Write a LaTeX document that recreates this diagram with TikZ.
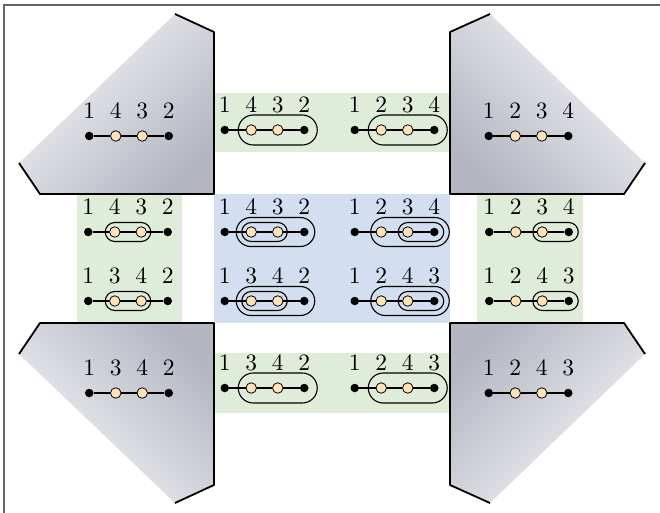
\documentclass[tikz,border=0pt]{standalone}
\usepackage{fontspec}
\setmainfont{lmroman10-regular}[Extension=.otf]
\usetikzlibrary{calc}
\definecolor{greenbg}{RGB}{224,236,218}
\definecolor{bluebg}{RGB}{211,223,240}
\definecolor{peach}{RGB}{255,226,186}
\definecolor{polylight}{RGB}{246,246,248}
\definecolor{polydark}{RGB}{180,183,194}
\definecolor{framegray}{RGB}{100,100,100}
\newcommand\labfont{\fontsize{23.5pt}{28pt}\selectfont}
\tikzset{
  bdot/.style={circle,fill=black,inner sep=0pt,minimum size=8.5pt},
  pdot/.style={circle,draw=black,fill=peach,line width=0.8pt,inner sep=0pt,minimum size=10.5pt},
  edge/.style={draw=black,line width=1.1pt},
  lab/.style={inner sep=0pt,font=\labfont},
  loopst/.style={draw=black,line width=1.1pt},
  polyline/.style={draw=black,line width=1.8pt,line join=round},
}
\newcommand\chain[7]{%
  \node[bdot] (#1-1) at (#2-39.75,#3) {};
  \node[pdot] (#1-2) at (#2-13.25,#3) {};
  \node[pdot] (#1-3) at (#2+13.25,#3) {};
  \node[bdot] (#1-4) at (#2+39.75,#3) {};
  \draw[edge] (#1-1) -- (#1-2) -- (#1-3) -- (#1-4);
  \node[lab] (#1-l1) at (#2-39.75,#3-25) {#4};
  \node[lab] (#1-l2) at (#2-13.25,#3-25) {#5};
  \node[lab] (#1-l3) at (#2+13.25,#3-25) {#6};
  \node[lab] (#1-l4) at (#2+39.75,#3-25) {#7};
}
% #1 left node, #2 right node, #3 left ext, #4 right ext, #5 half height
\newcommand\stad[5]{%
  \draw[loopst,rounded corners=#5] ($(#1)+(-#3,-#5)$) rectangle ($(#2)+(#4,#5)$);
}
\begin{document}
\begin{tikzpicture}[x=1pt,y=-1pt]
\useasboundingbox (0,0) rectangle (660,513);
% backgrounds
\fill[greenbg] (214,93) rectangle (450,152);
\fill[greenbg] (214,353) rectangle (450,413);
\fill[greenbg] (77,194) rectangle (182,323);
\fill[greenbg] (477,194) rectangle (583,323);
\fill[bluebg] (214,194) rectangle (450,323);
% polygons
\shade[top color=polylight,bottom color=polydark,shading angle=45]
  (175,14) -- (214,32) -- (214,194) -- (40,194) -- (19,163) -- cycle;
\draw[polyline] (175,14) -- (214,32) -- (214,194) -- (40,194) -- (19,163);
\shade[top color=polylight,bottom color=polydark,shading angle=-45]
  (490,14) -- (450,32) -- (450,194) -- (624,194) -- (645,163) -- cycle;
\draw[polyline] (490,14) -- (450,32) -- (450,194) -- (624,194) -- (645,163);
\shade[top color=polylight,bottom color=polydark,shading angle=135]
  (175,503) -- (214,485) -- (214,323) -- (40,323) -- (19,354) -- cycle;
\draw[polyline] (175,503) -- (214,485) -- (214,323) -- (40,323) -- (19,354);
\shade[top color=polylight,bottom color=polydark,shading angle=-135]
  (490,503) -- (450,485) -- (450,323) -- (624,323) -- (645,354) -- cycle;
\draw[polyline] (490,503) -- (450,485) -- (450,323) -- (624,323) -- (645,354);
% frame
\draw[framegray,line width=2pt] (3.5,513) -- (3.5,5.5) -- (660,5.5);
% diagrams
\chain{TL}{129}{136}{1}{4}{3}{2}
\chain{TR}{528.5}{136}{1}{2}{3}{4}
\chain{BL}{129}{393}{1}{3}{4}{2}
\chain{BR}{528.5}{393}{1}{2}{4}{3}
\chain{TMa}{264.5}{130}{1}{4}{3}{2}
\chain{TMb}{394.5}{130}{1}{2}{3}{4}
\stad{TMa-2}{TMa-4}{13}{13}{15}
\stad{TMb-2}{TMb-4}{13}{13}{15}
\chain{BMa}{264.5}{388}{1}{3}{4}{2}
\chain{BMb}{394.5}{388}{1}{2}{4}{3}
\stad{BMa-2}{BMa-4}{13}{13}{15}
\stad{BMb-2}{BMb-4}{13}{13}{15}
\chain{LGa}{128}{232}{1}{4}{3}{2}
\chain{LGb}{128}{301}{1}{3}{4}{2}
\stad{LGa-2}{LGa-3}{9.5}{9.5}{9.5}
\stad{LGb-2}{LGb-3}{9.5}{9.5}{9.5}
\chain{RGa}{529}{232}{1}{2}{3}{4}
\chain{RGb}{529}{301}{1}{2}{4}{3}
\stad{RGa-3}{RGa-4}{9.5}{9.5}{9.5}
\stad{RGb-3}{RGb-4}{9.5}{9.5}{9.5}
\chain{Ba}{264.5}{232}{1}{4}{3}{2}
\chain{Bb}{394.5}{232}{1}{2}{3}{4}
\chain{Bc}{264.5}{301}{1}{3}{4}{2}
\chain{Bd}{394.5}{301}{1}{2}{4}{3}
\stad{Ba-2}{Ba-3}{9.5}{9.5}{9.5}
\stad{Ba-2}{Ba-4}{15}{10.5}{14.5}
\stad{Bb-3}{Bb-4}{9.5}{9.5}{9.5}
\stad{Bb-2}{Bb-4}{10.5}{15}{14.5}
\stad{Bc-2}{Bc-3}{9.5}{9.5}{9.5}
\stad{Bc-2}{Bc-4}{15}{10.5}{14.5}
\stad{Bd-3}{Bd-4}{9.5}{9.5}{9.5}
\stad{Bd-2}{Bd-4}{10.5}{15}{14.5}
\end{tikzpicture}
\end{document}
